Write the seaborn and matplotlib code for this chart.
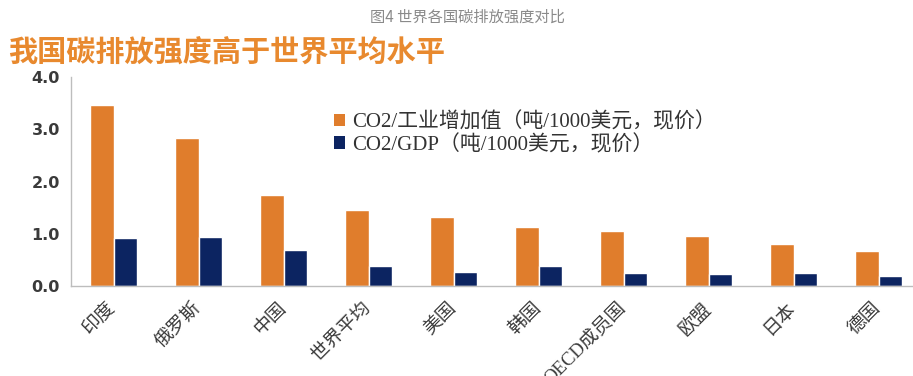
import matplotlib
matplotlib.use("Agg")
import matplotlib.pyplot as plt
from matplotlib.font_manager import FontProperties
from matplotlib.patches import Patch
import seaborn as sns
import pandas as pd

countries = ["印度", "俄罗斯", "中国", "世界平均", "美国", "韩国", "OECD成员国", "欧盟", "日本", "德国"]
co2_per_industry = [3.46, 2.83, 1.74, 1.46, 1.33, 1.13, 1.05, 0.95, 0.81, 0.67]
co2_per_gdp = [0.91, 0.93, 0.69, 0.39, 0.26, 0.38, 0.24, 0.23, 0.24, 0.19]
series_names = ["CO2/工业增加值（吨/1000美元，现价）", "CO2/GDP（吨/1000美元，现价）"]
y_ticks = [0.0, 1.0, 2.0, 3.0, 4.0]

orange = "#E07D2C"
navy = "#0C2461"

sns.set_theme(style="white")
plt.rcParams["font.family"] = ["Noto Sans CJK SC", "DejaVu Sans"]

df = pd.DataFrame({
    "country": countries * 2,
    "value": co2_per_industry + co2_per_gdp,
    "series": [series_names[0]] * len(countries) + [series_names[1]] * len(countries),
})

fig = plt.figure(figsize=(9.13, 3.76), dpi=100)
ax = fig.add_axes([71 / 913, 1 - 286 / 376, 850 / 913, 209 / 376])

sns.barplot(data=df, x="country", y="value", hue="series", order=countries,
            hue_order=series_names, palette=[orange, navy], width=0.55,
            saturation=1, gap=0, legend=False, ax=ax)

ax.set_xlim(-0.5, len(countries) - 0.5)
ax.set_ylim(0, 4.0)
ax.set_xlabel("")
ax.set_ylabel("")

spine_color = "#BDBDBD"
for side in ["top", "right"]:
    ax.spines[side].set_visible(False)
for side in ["left", "bottom"]:
    ax.spines[side].set_color(spine_color)
    ax.spines[side].set_linewidth(1.0)

ax.set_yticks(y_ticks)
ax.set_yticklabels([f"{t:.1f}" for t in y_ticks], fontproperties=FontProperties(
    family=["DejaVu Sans"], weight="bold", size=11.5), color="#3A3A3A")
ax.tick_params(axis="y", direction="out", length=5, width=1, color=spine_color, pad=3)

# category boundaries carry the tick marks, centres carry the labels
ax.set_xticks(range(len(countries)))
ax.set_xticks([i - 0.5 for i in range(len(countries) + 1)], minor=True)
ax.tick_params(axis="x", which="major", length=0, pad=14)
ax.tick_params(axis="x", which="minor", direction="out", length=5, width=1, color=spine_color)
ax.set_xticklabels(countries, rotation=45, ha="right", va="center", rotation_mode="anchor",
                   fontproperties=FontProperties(family=["Liberation Serif", "Noto Sans CJK SC"], size=13.5),
                   color="#3A3A3A")

handles = [Patch(facecolor=orange, edgecolor="none"), Patch(facecolor=navy, edgecolor="none")]
fig.legend(handles, series_names, loc="upper left", bbox_to_anchor=(334 / 913, 1 - 112 / 376),
           frameon=False, handlelength=0.55, handleheight=0.55, handletextpad=0.3,
           labelspacing=0.1, borderaxespad=0, borderpad=0,
           prop=FontProperties(family=["Liberation Serif", "Noto Sans CJK SC"], size=15),
           labelcolor="#333333")

fig.text(8 / 913, 1 - 53 / 376, "我国碳排放强度高于世界平均水平", color="#E8892E",
         fontsize=21, fontweight="bold", ha="left", va="center")
fig.text(467 / 913, 1 - 17 / 376, "图4 世界各国碳排放强度对比", color="#8A8A8A",
         fontsize=11, ha="center", va="center")

fig.savefig("out.png", dpi=100, facecolor="white")
